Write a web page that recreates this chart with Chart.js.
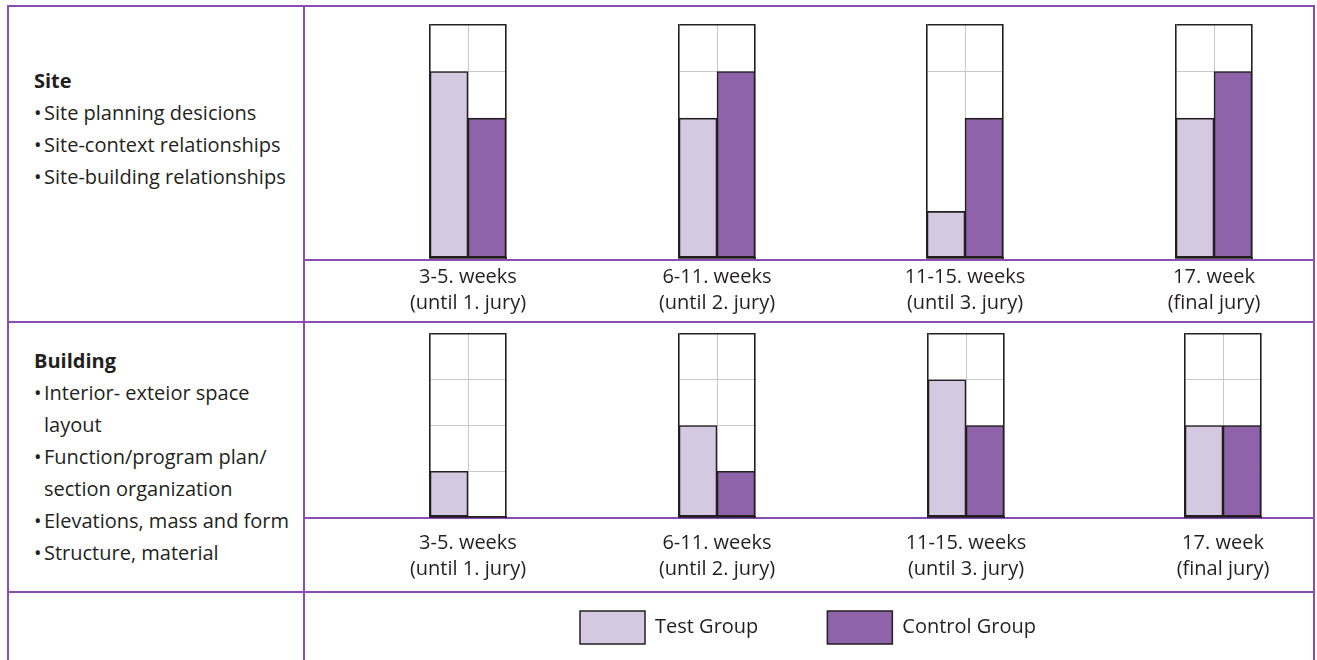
<!DOCTYPE html>
<html>
<head>
<meta charset="utf-8">
<script src="https://cdn.jsdelivr.net/npm/chart.js@4.4.1/dist/chart.umd.min.js"></script>
<style>
  body { margin: 0; background: #fff; }
  #page { position: relative; width: 1317px; height: 660px; overflow: hidden; background: #fff;
          font-family: "Open Sans", sans-serif; color: #231f20; }
  .rule { position: absolute; background: #8a4db3; }
  .cell-text { position: absolute; left: 34px; font-size: 20px; line-height: 32px; white-space: nowrap; }
  .bl { display: inline-block; width: 10px; }
  .ind { padding-left: 10px; }
  canvas { position: absolute; }
</style>
</head>
<body>
<div id="page">
  <!-- table rules -->
  <div class="rule" style="left:7px;top:5px;width:1308px;height:2px"></div>
  <div class="rule" style="left:7px;top:5px;width:2px;height:655px"></div>
  <div class="rule" style="left:303px;top:5px;width:2px;height:655px"></div>
  <div class="rule" style="left:1313px;top:5px;width:2px;height:655px"></div>
  <div class="rule" style="left:303px;top:259px;width:1012px;height:2px"></div>
  <div class="rule" style="left:7px;top:321px;width:1308px;height:2px"></div>
  <div class="rule" style="left:303px;top:517px;width:1012px;height:2px"></div>
  <div class="rule" style="left:7px;top:591px;width:1308px;height:2px"></div>

  <div class="cell-text" style="top:65px">
    <div><b>Site</b></div>
    <div><span class="bl">•</span>Site planning desicions</div>
    <div><span class="bl">•</span>Site-context relationships</div>
    <div><span class="bl">•</span>Site-building relationships</div>
  </div>
  <div class="cell-text" style="top:345px">
    <div><b>Building</b></div>
    <div><span class="bl">•</span>Interior- exteior space</div>
    <div class="ind">layout</div>
    <div><span class="bl">•</span>Function/program plan/</div>
    <div class="ind">section organization</div>
    <div><span class="bl">•</span>Elevations, mass and form</div>
    <div><span class="bl">•</span>Structure, material</div>
  </div>
</div>
<script>
const ink = "#231f20";
const gridGrey = "#c8c8c8";
const testFill = "#d5c8e1";
const controlFill = "#8e63aa";
const FONT = '"Open Sans", sans-serif';

const weekLabels = [
  ["3-5. weeks", "(until 1. jury)"],
  ["6-11. weeks", "(until 2. jury)"],
  ["11-15. weeks", "(until 3. jury)"],
  ["17. week", "(final jury)"],
];
const seriesNames = ["Test Group", "Control Group"];

const siteTest = [4, 3, 1, 3];
const siteControl = [3, 4, 3, 4];
const buildingTest = [1, 2, 3, 2];
const buildingControl = [0, 1, 2, 2];

// y tick values that get a grid line (last one is the top of each box)
const siteTicks = [0, 4, 5];
const buildingTicks = [0, 1, 2, 3, 4];

// where the little panels sit on the page
const panelRows = [
  { test: siteTest, control: siteControl, ticks: siteTicks,
    lefts: [430, 679, 927, 1176], top: 25, height: 233, labelPad: 6 },
  { test: buildingTest, control: buildingControl, ticks: buildingTicks,
    lefts: [430, 679, 928, 1185], top: 334, height: 183, labelPad: 13 },
];

const page = document.getElementById("page");
const PAD_X = 75, PAD_TOP = 6, AXIS_H = 64, BOX_W = 76;

function makePanel(row, i) {
  const cv = document.createElement("canvas");
  cv.width = BOX_W + PAD_X * 2;
  cv.height = PAD_TOP + row.height + AXIS_H;
  cv.style.left = (row.lefts[i] - PAD_X) + "px";
  cv.style.top = (row.top - PAD_TOP) + "px";
  page.appendChild(cv);

  const max = row.ticks[row.ticks.length - 1];
  const bar = { barPercentage: 1, categoryPercentage: 1, borderWidth: 1.6, borderColor: ink, borderSkipped: false };

  new Chart(cv, {
    type: "bar",
    data: {
      labels: [weekLabels[i]],
      datasets: [
        { label: seriesNames[0], data: [row.test[i]], backgroundColor: testFill, ...bar },
        { label: seriesNames[1], data: [row.control[i]], backgroundColor: controlFill, ...bar },
      ],
    },
    options: {
      responsive: false,
      animation: false,
      layout: { padding: { left: PAD_X, right: PAD_X, top: PAD_TOP, bottom: 0 } },
      plugins: { legend: { display: false }, tooltip: { enabled: false } },
      scales: {
        x: {
          offset: true,
          grid: { offset: false, drawTicks: false, color: gridGrey, lineWidth: 1 },
          border: { color: ink, width: 1.6 },
          ticks: {
            maxRotation: 0, minRotation: 0, autoSkip: false,
            padding: row.labelPad, color: ink,
            font: { family: FONT, size: 20, lineHeight: 1.3 },
          },
          afterFit: (s) => { s.height = AXIS_H; s.paddingLeft = 0; s.paddingRight = 0; },
        },
        y: {
          min: 0, max: max,
          afterBuildTicks: (s) => { s.ticks = row.ticks.map((v) => ({ value: v })); },
          ticks: { display: false },
          grid: {
            drawTicks: false,
            color: (c) => (c.tick.value === 0 || c.tick.value === max ? ink : gridGrey),
            lineWidth: (c) => (c.tick.value === 0 || c.tick.value === max ? 1.6 : 1),
          },
          border: { color: ink, width: 1.6 },
          afterFit: (s) => { s.width = 0; },
        },
        yRight: {
          position: "right", min: 0, max: max,
          ticks: { display: false },
          grid: { display: false, drawTicks: false },
          border: { color: ink, width: 1.6 },
          afterFit: (s) => { s.width = 0; },
        },
      },
    },
  });
}

panelRows.forEach((row) => weekLabels.forEach((_, i) => makePanel(row, i)));

// legend row
const LEG_PAD = 69;
const legendCanvas = document.createElement("canvas");
legendCanvas.width = 700;
legendCanvas.height = 320;
legendCanvas.style.left = (580 - LEG_PAD) + "px";
legendCanvas.style.top = (611 - LEG_PAD) + "px";
page.appendChild(legendCanvas);

new Chart(legendCanvas, {
  type: "bar",
  data: {
    labels: [],
    datasets: [
      { label: seriesNames[0], data: [], backgroundColor: testFill, borderColor: ink, borderWidth: 1.5 },
      { label: seriesNames[1], data: [], backgroundColor: controlFill, borderColor: ink, borderWidth: 1.5 },
    ],
  },
  options: {
    responsive: false,
    animation: false,
    scales: { x: { display: false }, y: { display: false } },
    plugins: {
      tooltip: { enabled: false },
      legend: {
        align: "start",
        labels: {
          boxWidth: 65, boxHeight: 33, padding: LEG_PAD,
          color: ink, font: { family: FONT, size: 20 },
        },
      },
    },
  },
});
</script>
</body>
</html>
